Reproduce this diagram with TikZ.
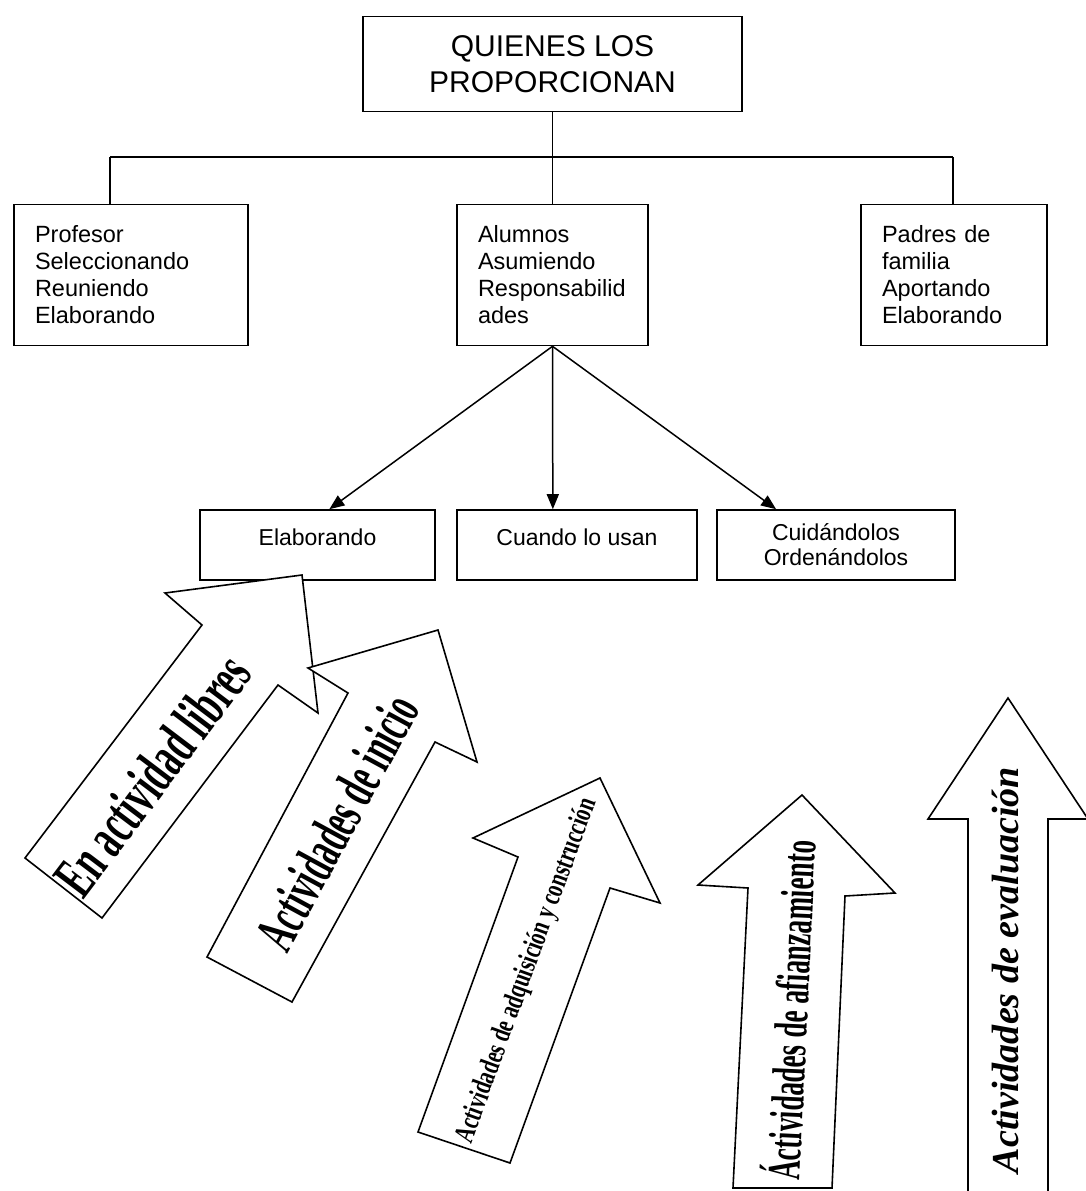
\documentclass[tikz,border=0pt]{standalone}
\usepackage{fontspec}
\usepackage{graphicx}
\setmainfont{Liberation Serif}
\setsansfont{Liberation Sans}
\usetikzlibrary{arrows.meta,calc}
\begin{document}
\begin{tikzpicture}[x=1pt,y=-1pt,
  box/.style={draw, line width=1.6pt, inner sep=0pt},
  ubox/.style={box, minimum height=141pt, inner xsep=21pt, align=left,
    font=\sffamily\fontsize{23.5pt}{27pt}\selectfont},
  lbox/.style={box, minimum height=70pt, align=center,
    font=\sffamily\fontsize{23pt}{25pt}\selectfont},
  conn/.style={line width=1.5pt},
  arr/.style={line width=1.5pt, -{Triangle[length=15pt,width=12pt]}},
  blk/.style={draw, fill=white, line width=1.6pt, line join=miter},
  atxt/.style={inner sep=0pt, font=\rmfamily}]
\useasboundingbox[fill=white] (0,0) rectangle (1085,1191);

% top box
\node[box, minimum width=379pt, minimum height=95pt, align=center,
  font=\sffamily\fontsize{30pt}{36pt}\selectfont] (top) at (552.5,64)
  {QUIENES LOS\\PROPORCIONAN};

% second row
\node[ubox, text width=192pt] (prof) at (131,275)
  {Profesor\\Seleccionando\\Reuniendo\\Elaborando};
\node[ubox, text width=149pt] (alum) at (552.5,275)
  {Alumnos\\Asumiendo\\Responsabilid\\ades};
\node[ubox, text width=144pt] (padr) at (954,275)
  {Padres de\\familia\\Aportando\\Elaborando};

% bus
\coordinate (busL) at (110,157);
\coordinate (busR) at (953,157);
\draw[conn] (top.south) -- (alum.north);
\draw[conn] (busL) -- (busR);
\draw[conn] (busL) -- (busL |- prof.north);
\draw[conn] (busR) -- (busR |- padr.north);

% third row
\node[lbox, minimum width=235pt] (elab) at (317.5,545)
  {\raisebox{8pt}[\height][\depth]{Elaborando}};
\node[lbox, minimum width=240pt] (cuan) at (577,545)
  {\raisebox{8pt}[\height][\depth]{Cuando lo usan}};
\node[lbox, minimum width=238pt] (cuid) at (836,545)
  {Cuidándolos\\Ordenándolos};

\draw[arr] (alum.south) -- ($(elab.north west)!0.55!(elab.north east)$);
\draw[arr] (alum.south) -- ($(cuan.north west)!0.40!(cuan.north east)$);
\draw[arr] (alum.south) -- ($(cuid.north west)!0.25!(cuid.north east)$);

% block arrows
\draw[blk] (302,575) -- (318,713) -- (278,685) -- (102,918) -- (25,858)
  -- (202,625) -- (165,593) -- cycle;
\node[atxt, rotate=52.9] (t1) at (152,775)
  {\resizebox{283pt}{42pt}{\bfseries En actividad libres}};

\draw[blk] (438,630) -- (477,762) -- (435,742) -- (292,1002) -- (207,957)
  -- (348,693) -- (308,668) -- cycle;
\node[atxt, rotate=61.5] (t2) at (337,822)
  {\resizebox{280pt}{40pt}{\bfseries Actividades de inicio}};

\draw[blk] (600,778) -- (660,903) -- (610,888) -- (510,1163) -- (418,1132)
  -- (518,857) -- (473,838) -- cycle;
\node[atxt, rotate=70] (t3) at (527,971)
  {\resizebox{365pt}{20pt}{\bfseries Actividades de adquisición y construcción}};

\draw[blk] (802,795) -- (895,893) -- (845,896) -- (832,1188) -- (733,1188)
  -- (748,888) -- (698,885) -- cycle;
\node[atxt, rotate=87.3] (t4) at (788,1010)
  {\resizebox{340pt}{40pt}{\bfseries Áctividades de afianzamiento}};

\draw[blk] (1008,698) -- (1088,819) -- (1048,819) -- (1048,1196) -- (968,1196)
  -- (968,819) -- (928,819) -- cycle;
\node[atxt, rotate=90] (t5) at (1005,970)
  {\resizebox{406pt}{!}{\bfseries\itshape Actividades de evaluación}};
\end{tikzpicture}
\end{document}
